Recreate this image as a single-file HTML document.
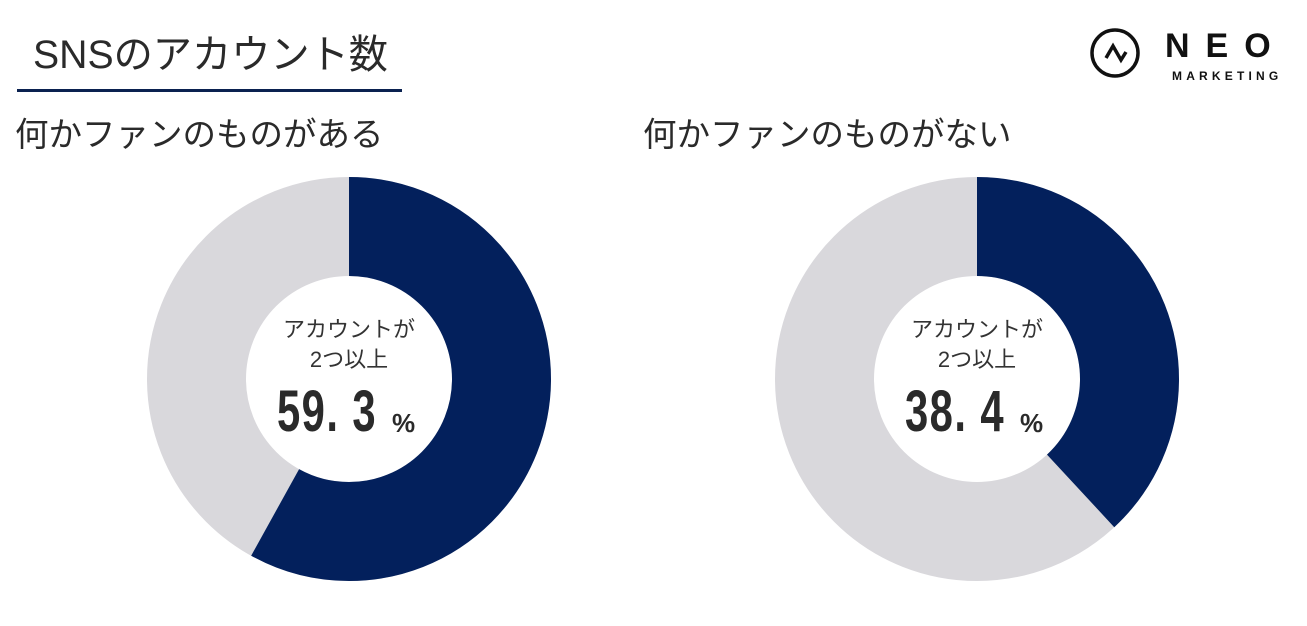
<!DOCTYPE html>
<html><head><meta charset="utf-8"><style>
body{margin:0;width:1307px;height:626px;background:#fff;overflow:hidden;position:relative;font-family:"Liberation Sans","Noto Sans CJK JP",sans-serif;color:#222}
.t{position:absolute;white-space:nowrap}
</style></head><body>
<div class="t" style="left:33px;top:30px;font-size:40px;line-height:50px;color:#2a2a2a;transform:scaleX(0.98);transform-origin:left">SNSのアカウント数</div>
<div style="position:absolute;left:17px;top:89px;width:385px;height:3px;background:#0a2150"></div>
<div class="t" style="left:15px;top:115px;font-size:33.5px;line-height:42px;color:#2a2a2a">何かファンのものがある</div>
<div class="t" style="left:643px;top:115px;font-size:33.5px;line-height:42px;color:#2a2a2a">何かファンのものがない</div>
<svg style="position:absolute;left:0;top:0" width="1307" height="626">
<g transform="translate(349,379) rotate(-90)">
<circle r="152.5" fill="none" stroke="#d9d8dc" stroke-width="99"/>
<circle r="152.5" fill="none" stroke="#03205c" stroke-width="99" stroke-dasharray="556 1000"/>
</g>
<g transform="translate(977,379) rotate(-90)">
<circle r="152.5" fill="none" stroke="#d9d8dc" stroke-width="99"/>
<circle r="152.5" fill="none" stroke="#03205c" stroke-width="99" stroke-dasharray="365 1000"/>
</g>
<circle cx="1115" cy="53" r="23" fill="none" stroke="#111" stroke-width="3.5"/>
<polyline points="1106,58 1113,46 1121,60 1126,52" fill="none" stroke="#111" stroke-width="3.5"/>
<text x="1165" y="57" font-family="Liberation Sans" font-weight="bold" font-size="34" letter-spacing="16" fill="#111">NEO</text>
<text x="1172" y="80" font-family="Liberation Sans" font-weight="bold" font-size="12" letter-spacing="4.2" fill="#111">MARKETING</text>
</svg>
<div class="t" style="left:349px;top:315px;width:0;"><div style="position:absolute;left:-90px;width:180px;text-align:center;font-size:22px;line-height:30px;color:#333">アカウントが<br>2つ以上</div></div>
<div class="t" style="left:277px;top:382px;font-size:58px;line-height:60px;font-weight:bold;color:#2a2a2a;transform:scaleX(0.72);transform-origin:left;letter-spacing:2px">59. 3</div>
<div class="t" style="left:392px;top:408px;font-size:26px;font-weight:bold;color:#2a2a2a">%</div>
<div class="t" style="left:977px;top:315px;width:0;"><div style="position:absolute;left:-90px;width:180px;text-align:center;font-size:22px;line-height:30px;color:#333">アカウントが<br>2つ以上</div></div>
<div class="t" style="left:905px;top:382px;font-size:58px;line-height:60px;font-weight:bold;color:#2a2a2a;transform:scaleX(0.72);transform-origin:left;letter-spacing:2px">38. 4</div>
<div class="t" style="left:1020px;top:408px;font-size:26px;font-weight:bold;color:#2a2a2a">%</div>
</body></html>
